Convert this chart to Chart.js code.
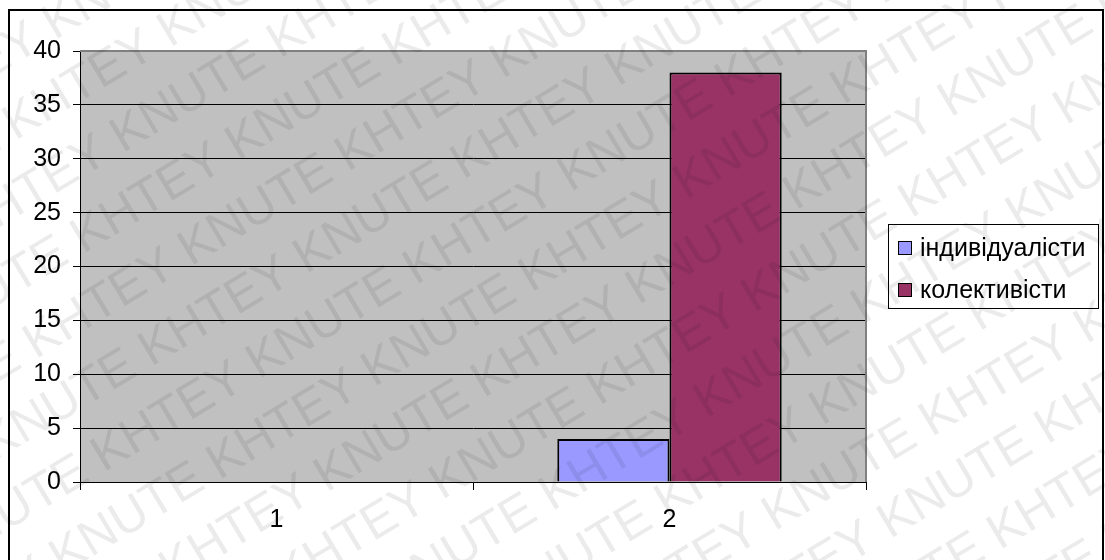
<!DOCTYPE html>
<html>
<head>
<meta charset="utf-8">
<script src="https://cdn.jsdelivr.net/npm/chart.js@4/dist/chart.umd.min.js"></script>
<style>
  html, body { margin: 0; padding: 0; background: #fff; }
  canvas { display: block; }
</style>
</head>
<body>
<canvas id="chart" width="1105" height="560"></canvas>
<script>
// survey groups and counts
const categories = ["1", "2"];
const individualists = [null, 4];
const collectivists = [null, 38];
const seriesNames = ["індивідуалісти", "колективісти"];
const seriesColors = ["#9999FF", "#993366"];
const yMax = 40;
const yStep = 5;

const FONT = '"Liberation Sans", Arial, sans-serif';

// gray plot background
const plotBackground = {
    id: "plotBackground",
    beforeDraw(chart) {
        const { ctx, chartArea: a } = chart;
        ctx.save();
        ctx.fillStyle = "#C0C0C0";
        ctx.fillRect(a.left, a.top, a.right - a.left, a.bottom - a.top);
        ctx.restore();
    },
    afterDatasetsDraw(chart) {
        const { ctx, chartArea: a } = chart;
        ctx.save();
        ctx.strokeStyle = "#808080";
        ctx.lineWidth = 2;
        ctx.beginPath();
        ctx.moveTo(a.left, a.top);
        ctx.lineTo(a.right, a.top);
        ctx.lineTo(a.right, a.bottom);
        ctx.stroke();
        ctx.restore();
    }
};

// boxed legend to the right of the plot
const legendBox = {
    id: "legendBox",
    afterDraw(chart) {
        const { ctx, chartArea: a } = chart;
        const x = Math.round(a.right) + 22;
        const y = 224;
        ctx.save();
        ctx.strokeStyle = "#000";
        ctx.lineWidth = 1;
        ctx.strokeRect(x + 0.5, y + 0.5, 210, 84);
        ctx.font = "25px " + FONT;
        ctx.textBaseline = "middle";
        chart.data.datasets.forEach((ds, i) => {
            const cy = y + 24 + i * 42;
            ctx.fillStyle = ds.backgroundColor;
            ctx.fillRect(x + 10, cy - 7, 14, 14);
            ctx.strokeStyle = "#000";
            ctx.strokeRect(x + 10.5, cy - 6.5, 13, 13);
            ctx.fillStyle = "#000";
            ctx.fillText(ds.label, x + 32, cy + 1);
        });
        ctx.restore();
    }
};

// diagonal KNUTE / KHTEY stamp and outer frame
const stamp = {
    id: "stamp",
    afterDraw(chart) {
        const { ctx, width, height } = chart;
        ctx.save();
        ctx.strokeStyle = "#000";
        ctx.lineWidth = 2;
        ctx.strokeRect(9, 10, 1094, height + 20);
        ctx.translate(width / 2, height / 2);
        ctx.rotate(-31 * Math.PI / 180);
        ctx.fillStyle = "rgba(0,0,0,0.08)";
        ctx.font = "50px " + FONT;
        const line = "KNUTE KHTEY ".repeat(10);
        for (let i = -8; i <= 8; i++) {
            const shift = (i % 2 === 0) ? 0 : -95;
            ctx.fillText(line, -1300 + shift, i * 66);
        }
        ctx.restore();
    }
};

new Chart(document.getElementById("chart"), {
    type: "bar",
    data: {
        labels: categories,
        datasets: [
            {
                label: seriesNames[0],
                data: individualists,
                backgroundColor: seriesColors[0],
                borderColor: "#000",
                borderWidth: 2,
                borderSkipped: "bottom"
            },
            {
                label: seriesNames[1],
                data: collectivists,
                backgroundColor: seriesColors[1],
                borderColor: "#000",
                borderWidth: 2,
                borderSkipped: "bottom"
            }
        ]
    },
    options: {
        responsive: false,
        animation: false,
        layout: { padding: { top: 51, right: 239, left: 0, bottom: 0 } },
        datasets: { bar: { categoryPercentage: 0.571, barPercentage: 1 } },
        plugins: {
            legend: { display: false },
            tooltip: { enabled: false }
        },
        scales: {
            x: {
                grid: {
                    offset: true,
                    drawOnChartArea: false,
                    drawTicks: true,
                    tickLength: 8,
                    color: "#000"
                },
                border: { color: "#000", width: 1 },
                ticks: { color: "#000", font: { family: FONT, size: 25 }, padding: 15 },
                afterFit(scale) { scale.height = 78; }
            },
            y: {
                min: 0,
                max: yMax,
                ticks: { stepSize: yStep, color: "#000", font: { family: FONT, size: 25 }, padding: 12 },
                grid: {
                    color: (c) => c.tick && c.tick.value === yMax ? "#808080" : "#000",
                    tickColor: "#000",
                    lineWidth: 1,
                    tickLength: 7
                },
                border: { color: "#000", width: 1 },
                afterFit(scale) { scale.width = 80; }
            }
        }
    },
    plugins: [plotBackground, legendBox, stamp]
});
</script>
</body>
</html>
